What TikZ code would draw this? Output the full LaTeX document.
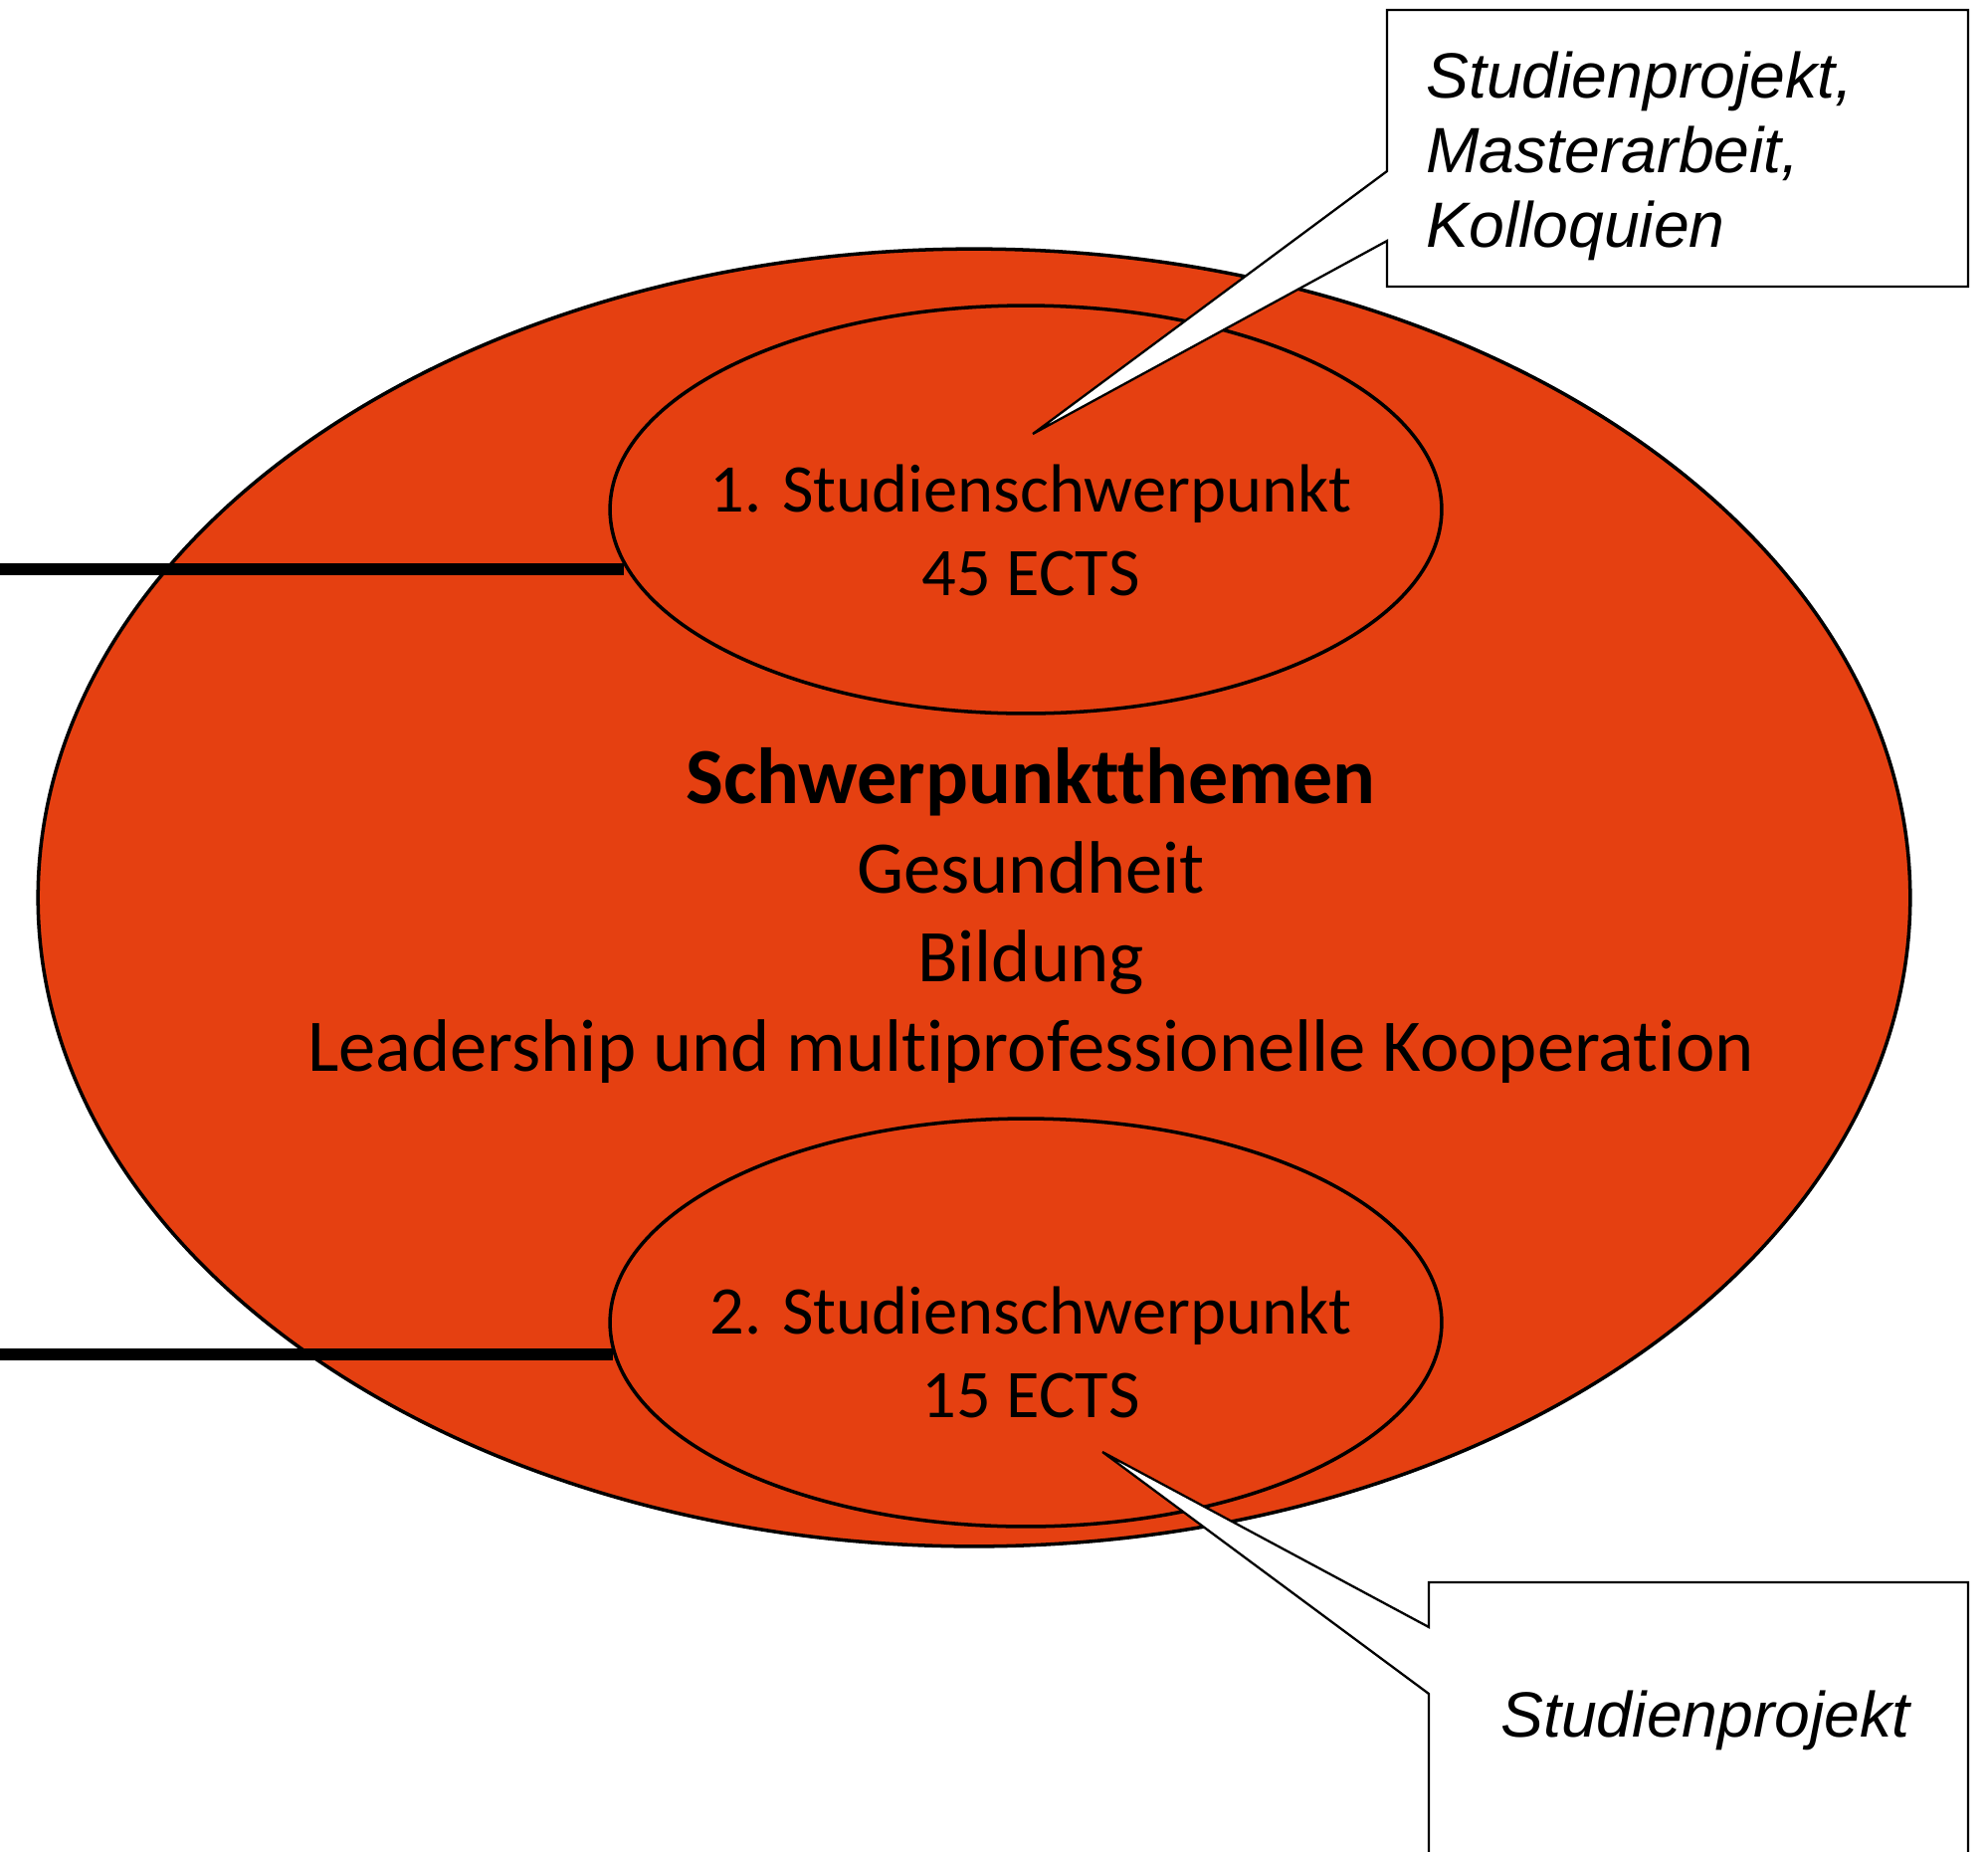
\documentclass[tikz,border=0pt]{standalone}
\usepackage{fontspec}
\setmainfont{Carlito}[Ligatures=NoCommon]
\newfontfamily\calloutfont{Liberation Sans}
\usetikzlibrary{shapes.geometric}
\definecolor{themefill}{RGB}{229,64,17}

\begin{document}
\begin{tikzpicture}[
  x=0.02cm, y=-0.02cm,
  blob/.style={ellipse, draw=black, line width=2pt, fill=themefill, inner sep=0pt},
  lbl/.style={align=center, font=\fontsize{39}{48}\selectfont, inner sep=0pt},
  note/.style={draw=black, line width=1.3pt, fill=white, line join=miter},
  notetext/.style={font=\calloutfont\itshape\fontsize{36.6}{42.5}\selectfont, align=left, inner sep=0pt},
  leg/.style={draw=black, line width=6.5pt}
]
\useasboundingbox (0,0) rectangle (1998,1860);

\node[blob, minimum width=37.64cm, minimum height=26.08cm] (big) at (979,902) {};
\node[blob, minimum width=16.72cm, minimum height=8.2cm] (e1) at (1031,512) {};
\node[blob, minimum width=16.72cm, minimum height=8.2cm] (e2) at (1031,1329) {};

\coordinate (s1) at (0,572);
\coordinate (s2) at (0,1361);
\draw[leg] (s1) -- (s1 -| e1.188);
\draw[leg] (s2) -- (s2 -| e2.184);

\coordinate (tip1) at (1038,436);
\coordinate (tip2) at (1108,1459);
\draw[note] (1394,10) -- (1978,10) -- (1978,288) -- (1394,288) -- (1394,242) -- (tip1) -- (1394,172) -- cycle;
\draw[note] (1436,1900) -- (1436,1702) -- (tip2) -- (1436,1635) -- (1436,1590) -- (1978,1590) -- (1978,1900);

\node[lbl] (t1) at (1036,533) {1. Studienschwerpunkt\\45 ECTS};
\node[lbl] (t2) at (1036,1359) {2. Studienschwerpunkt\\15 ECTS};
\node[lbl, font=\fontsize{42.5}{51}\selectfont] (themen) at (1036,920)
  {{\bfseries\fontsize{45.5}{51}\selectfont Schwerpunktthemen}\\Gesundheit\\Bildung\\Leadership und multiprofessionelle Kooperation};

\node[notetext, anchor=west] (n1) at (1433,157) {Studienprojekt,\\Masterarbeit,\\Kolloquien};
\node[notetext] (n2) at (1714,1729) {Studienprojekt};
\end{tikzpicture}
\end{document}
